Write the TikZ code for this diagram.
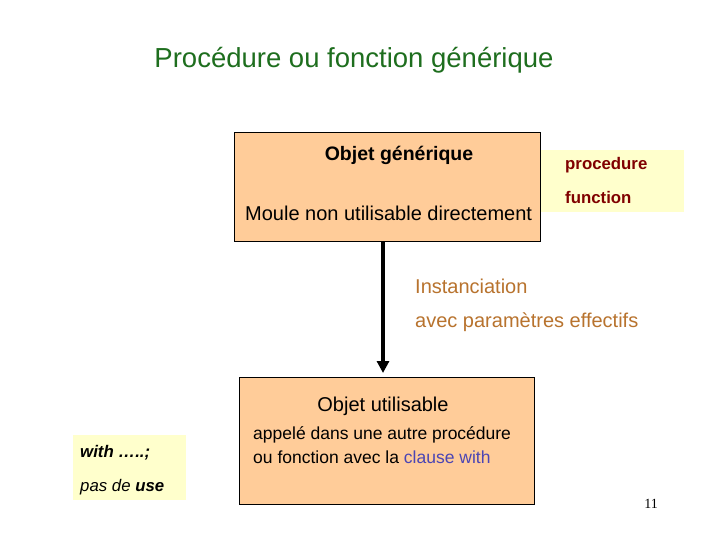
\documentclass[tikz,border=0pt]{standalone}
\usepackage{fontspec}
\setmainfont{Liberation Sans}
\newfontfamily\serif{Liberation Serif}
\usetikzlibrary{arrows.meta}
\definecolor{orangebox}{HTML}{FFCC99}
\definecolor{yellowbox}{HTML}{FFFFCC}
\definecolor{titlegreen}{HTML}{1E6E1E}
\definecolor{brownt}{HTML}{B8732E}
\definecolor{darkred}{HTML}{800000}
\definecolor{clauseblue}{HTML}{4B45B4}
\tikzset{obox/.style={draw=black,fill=orangebox,line width=0.8pt},
ybox/.style={fill=yellowbox},
txt/.style={inner sep=0pt,anchor=west,font=\fontsize{20}{24}\selectfont},
stxt/.style={inner sep=0pt,anchor=west,font=\fontsize{16.8}{20}\selectfont}}
\begin{document}
\begin{tikzpicture}[x=1pt,y=-1pt]
\useasboundingbox[fill=white] (0,0) rectangle (720,540);
\node[inner sep=0pt,text=titlegreen,font=\fontsize{27.5}{32}\selectfont] (title) at (354,60) {Procédure ou fonction générique};
\draw[obox] (234,132) rectangle (540,241);
\coordinate (gtop) at (383,241);
\node[txt,anchor=center,font=\fontsize{19.5}{24}\selectfont\bfseries] (g1) at (399,155) {Objet générique};
\node[txt] (g2) at (245,213) {Moule non utilisable directement};
\fill[ybox] (541,150) rectangle (684,212);
\node[stxt,text=darkred,font=\fontsize{16.8}{20}\selectfont\bfseries] (p1) at (565,165) {procedure};
\node[stxt,text=darkred,font=\fontsize{16.8}{20}\selectfont\bfseries] (p2) at (565,197) {function};
\draw[obox] (239,377) rectangle (534,504);
\coordinate (utop) at (383,373);
\draw[line width=3.5pt,-{Triangle[length=12pt,width=12pt]}] (gtop) -- (utop);
\node[txt,text=brownt] (i1) at (415,286) {Instanciation};
\node[txt,text=brownt] (i2) at (415,322) {avec paramètres effectifs};
\node[txt,anchor=center] (u1) at (383,406) {Objet utilisable};
\node[stxt,font=\fontsize{17.5}{20}\selectfont] (u2) at (253,435) {appelé dans une autre procédure};
\node[stxt,font=\fontsize{17.5}{20}\selectfont] (u3) at (253,457) {ou fonction avec la \textcolor{clauseblue}{clause with}};
\fill[ybox] (73,435) rectangle (186,500);
\node[stxt,font=\fontsize{16.8}{20}\selectfont\itshape] (w1) at (80,453) {\textbf{with} \textbf{…..;}};
\node[stxt,font=\fontsize{16.8}{20}\selectfont\itshape] (w2) at (80,487) {pas de \textbf{use}};
\node[inner sep=0pt,font=\serif\fontsize{14}{16}\selectfont] (num) at (651,504) {11};
\end{tikzpicture}
\end{document}
